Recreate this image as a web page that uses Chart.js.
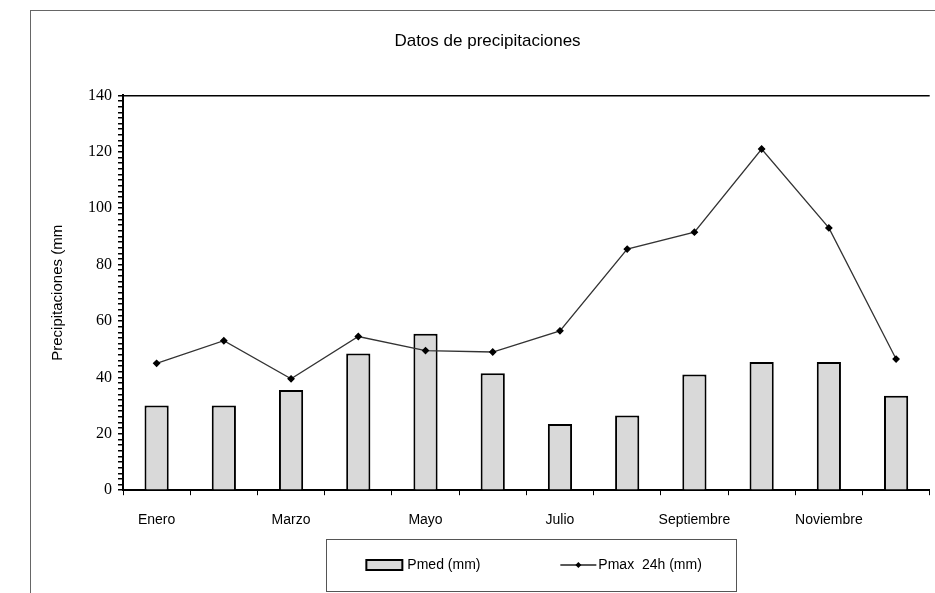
<!DOCTYPE html>
<html>
<head>
<meta charset="utf-8">
<script src="https://cdn.jsdelivr.net/npm/chart.js@4"></script>
<style>
  body { margin: 0; background: #fff; }
  #frame {
    position: absolute; left: 30px; top: 10px;
    width: 905px; height: 583px;
    border-top: 1px solid #666; border-left: 1px solid #666;
  }
</style>
</head>
<body>
<div id="frame"><canvas id="myChart" width="904" height="582"></canvas></div>
<script>
const meses = ['Enero', 'Febrero', 'Marzo', 'Abril', 'Mayo', 'Junio', 'Julio', 'Agosto', 'Septiembre', 'Octubre', 'Noviembre', 'Diciembre'];
const pmed = [30, 30, 35.5, 48.5, 55.5, 41.5, 23.5, 26.5, 41, 45.5, 45.5, 33.5];
const pmax24 = [45, 53, 39.5, 54.5, 49.5, 49, 56.5, 85.5, 91.5, 121, 93, 46.5];
const yTicks = [0, 20, 40, 60, 80, 100, 120, 140];

// legend drawn by hand, in a box under the x axis
const legendBox = {
  id: 'legendBox',
  afterDraw(chart) {
    const ctx = chart.ctx;
    const ca = chart.chartArea;
    const cx = (ca.left + ca.right) / 2 + 5;
    const top = chart.scales.x.bottom - 7;
    const w = 410, h = 52;
    const left = cx - w / 2;
    ctx.save();
    ctx.strokeStyle = '#555';
    ctx.lineWidth = 1;
    ctx.strokeRect(Math.round(left) + 0.5, Math.round(top) + 0.5, w, h);
    const my = top + 26;
    // bar item
    let x = left + 40;
    ctx.fillStyle = '#d9d9d9';
    ctx.fillRect(x, my - 5, 36, 10);
    ctx.strokeStyle = '#000';
    ctx.lineWidth = 2;
    ctx.strokeRect(x, my - 5, 36, 10);
    ctx.fillStyle = '#000';
    ctx.font = '14px "Liberation Sans"';
    ctx.textBaseline = 'middle';
    ctx.fillText(chart.data.datasets[1].label, x + 41, my);
    // line item
    x = left + 234;
    ctx.strokeStyle = '#222';
    ctx.lineWidth = 1.3;
    ctx.beginPath(); ctx.moveTo(x, my); ctx.lineTo(x + 36, my); ctx.stroke();
    ctx.beginPath();
    ctx.moveTo(x + 18, my - 3); ctx.lineTo(x + 21, my); ctx.lineTo(x + 18, my + 3); ctx.lineTo(x + 15, my);
    ctx.closePath(); ctx.fill();
    ctx.fillText(chart.data.datasets[0].label, x + 38, my);
    ctx.restore();
  }
};

var ctx = document.getElementById('myChart').getContext('2d');
var myChart = new Chart(ctx, {
  data: {
    labels: meses,
    datasets: [{
      type: 'line',
      label: 'Pmax  24h (mm)',
      data: pmax24,
      borderColor: '#333',
      borderWidth: 1.3,
      pointStyle: 'rectRot',
      pointRadius: 3,
      pointBackgroundColor: '#000',
      pointBorderColor: '#000',
      tension: 0,
      order: 0
    }, {
      type: 'bar',
      label: 'Pmed (mm)',
      data: pmed,
      backgroundColor: '#d9d9d9',
      borderColor: '#000',
      borderWidth: 2,
      barPercentage: 0.36,
      categoryPercentage: 1,
      order: 1
    }]
  },
  options: {
    responsive: false,
    animation: false,
    layout: { padding: { left: 14, right: 5, top: 0, bottom: 47 } },
    plugins: {
      title: {
        display: true,
        text: 'Datos de precipitaciones',
        color: '#000',
        font: { family: 'Liberation Sans', size: 17, weight: 'normal' },
        padding: { top: 20, bottom: 44 }
      },
      legend: { display: false },
      tooltip: { enabled: false }
    },
    scales: {
      x: {
        grid: { display: true, drawOnChartArea: false, offset: true, tickLength: 5, color: '#000', tickColor: '#000' },
        border: { color: '#000', width: 2 },
        ticks: {
          autoSkip: false,
          maxRotation: 0,
          color: '#000',
          padding: 17,
          font: { family: 'Liberation Sans', size: 14 },
          callback: (v, i) => i % 2 === 0 ? meses[i] : ''
        }
      },
      y: {
        min: 0,
        max: 140,
        ticks: {
          stepSize: 2,
          autoSkip: false,
          color: '#000',
          padding: 6,
          font: { family: 'Liberation Serif', size: 16 },
          callback: v => yTicks.includes(v) ? v : ''
        },
        grid: {
          drawOnChartArea: true,
          tickLength: 5,
          color: ctx => ctx.tick && ctx.tick.value === 140 ? '#000' : 'rgba(0,0,0,0)',
          tickColor: '#000',
          lineWidth: 1.5
        },
        border: { color: '#000', width: 2 },
        title: {
          display: true,
          text: 'Precipitaciones (mm',
          color: '#000',
          font: { family: 'Liberation Sans', size: 15 },
          padding: { bottom: 15 }
        }
      }
    }
  },
  plugins: [legendBox]
});
</script>
</body>
</html>
